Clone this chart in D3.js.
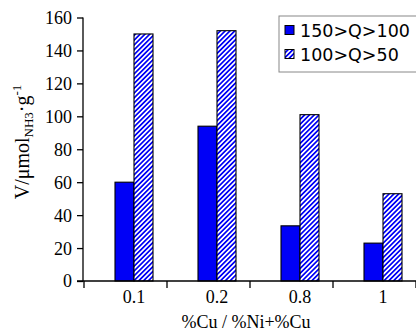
<!DOCTYPE html>
<html>
<head>
<meta charset="utf-8">
<script src="https://cdn.jsdelivr.net/npm/d3@7/dist/d3.min.js"></script>
<style>
  html, body { margin: 0; padding: 0; background: #fff; }
  svg { display: block; }
</style>
</head>
<body>
<svg id="chart" width="416" height="333"></svg>
<script>
// Ammonia uptake per Cu ratio, split by adsorption heat range
const categories = ["0.1", "0.2", "0.8", "1"];
const seriesNames = ["150>Q>100", "100>Q>50"];
const strongSites = [60, 94, 33.5, 23];   // 150>Q>100
const mediumSites = [150, 152, 101, 53];  // 100>Q>50
const yTicks = [0, 20, 40, 60, 80, 100, 120, 140, 160];

const BLUE = "#0000f6";
const svg = d3.select("#chart");

// hatch fill for the second series
const defs = svg.append("defs");
const pat = defs.append("pattern")
  .attr("id", "hatch")
  .attr("patternUnits", "userSpaceOnUse")
  .attr("width", 3.4).attr("height", 3.4)
  .attr("patternTransform", "rotate(45)");
pat.append("rect").attr("width", 3.4).attr("height", 3.4).attr("fill", "#fff");
pat.append("rect").attr("width", 1.7).attr("height", 3.4).attr("fill", BLUE);

const axisX0 = 83, plotRight = 416, baseY = 281, topY = 17.5;

const y = d3.scaleLinear().domain([0, 160]).range([baseY, topY]);
const x = d3.scaleBand().domain(categories).range([axisX0 + 1, plotRight]).paddingInner(0).paddingOuter(0);
const groupShift = 8.5;
const barW = 19;
const center = c => x(c) + x.bandwidth() / 2 + groupShift;

const serif = "'Liberation Serif', 'Times New Roman', serif";

// y axis
const yAxis = d3.axisLeft(y).tickValues(yTicks).tickSize(6).tickPadding(5).tickFormat(d3.format("d"));
const gy = svg.append("g").attr("transform", `translate(${axisX0},0)`).call(yAxis);
gy.select(".domain").attr("d", `M0,${topY}V${baseY}`).attr("stroke", "#000").attr("stroke-width", 1.3);
gy.selectAll(".tick line").attr("stroke", "#000").attr("stroke-width", 1.3);
gy.selectAll(".tick text").attr("font-family", serif).attr("font-size", 18).attr("fill", "#000")
  .attr("dy", "0.33em");

// bars
const rows = categories.map((c, i) => ({ c, a: strongSites[i], b: mediumSites[i] }));
const g = svg.append("g");
g.selectAll("rect.strong").data(rows).join("rect")
  .attr("class", "strong")
  .attr("x", d => center(d.c) - barW)
  .attr("y", d => y(d.a))
  .attr("width", barW)
  .attr("height", d => baseY - y(d.a))
  .attr("fill", BLUE).attr("stroke", "#000").attr("stroke-width", 1.1);
g.selectAll("rect.medium").data(rows).join("rect")
  .attr("class", "medium")
  .attr("x", d => center(d.c))
  .attr("y", d => y(d.b))
  .attr("width", barW)
  .attr("height", d => baseY - y(d.b))
  .attr("fill", "url(#hatch)").attr("stroke", "#000").attr("stroke-width", 1.1);

// x axis: baseline, boundary ticks, labels
const gx = svg.append("g");
gx.append("line").attr("x1", axisX0 - 6).attr("x2", plotRight).attr("y1", baseY).attr("y2", baseY)
  .attr("stroke", "#000").attr("stroke-width", 1.3);
const bounds = categories.map(c => x(c)).concat([x.range()[1]]);
gx.selectAll("line.tk").data(bounds).join("line")
  .attr("class", "tk")
  .attr("x1", d => d).attr("x2", d => d)
  .attr("y1", baseY).attr("y2", baseY + 7)
  .attr("stroke", "#000").attr("stroke-width", 1.3);
gx.selectAll("text.lbl").data(categories).join("text")
  .attr("class", "lbl")
  .attr("x", d => center(d)).attr("y", baseY + 22)
  .attr("text-anchor", "middle")
  .attr("font-family", serif).attr("font-size", 18)
  .text(d => d);

// axis titles
svg.append("text")
  .attr("x", 246).attr("y", 328)
  .attr("text-anchor", "middle")
  .attr("font-family", serif).attr("font-size", 18)
  .text("%Cu / %Ni+%Cu");

const yt = svg.append("text")
  .attr("transform", "translate(29,142) rotate(-90)")
  .attr("text-anchor", "middle")
  .attr("font-family", serif).attr("font-size", 20);
yt.append("tspan").text("V/μmol");
yt.append("tspan").attr("font-size", 13).attr("dy", 4).text("NH3");
yt.append("tspan").attr("dy", -4).text("·g");
yt.append("tspan").attr("font-size", 13).attr("dy", -8).text("-1");

// legend
const leg = svg.append("g");
leg.append("rect").attr("x", 279).attr("y", 16).attr("width", 150).attr("height", 56)
  .attr("fill", "#fff").attr("stroke", "#888").attr("stroke-width", 1);
const legFills = [BLUE, "url(#hatch)"];
seriesNames.forEach((name, i) => {
  const cy = 30 + i * 24;
  leg.append("rect").attr("x", 285).attr("y", cy - 4.5).attr("width", 9).attr("height", 9)
    .attr("fill", legFills[i]).attr("stroke", "#000").attr("stroke-width", 1);
  leg.append("text").attr("x", 300).attr("y", cy + 6.5)
    .attr("font-family", "'DejaVu Sans', Verdana, sans-serif").attr("font-size", 17.5)
    .text(name);
});
</script>
</body>
</html>
